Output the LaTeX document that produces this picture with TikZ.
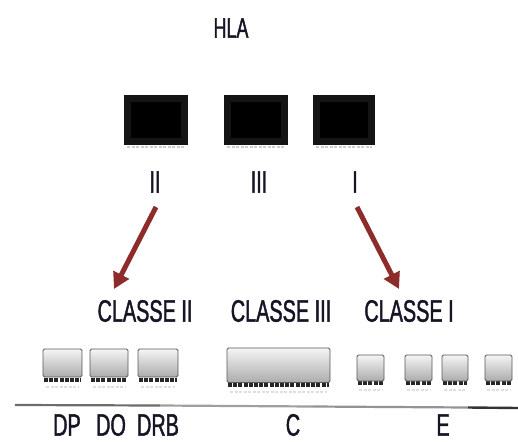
\documentclass[tikz,border=0pt]{standalone}
\usepackage{fontspec}
\usetikzlibrary{arrows.meta}
\newfontfamily\narrowfont[FakeStretch=0.64,FakeBold=1.3]{Liberation Sans}
\definecolor{txt}{HTML}{151525}
\definecolor{arrowred}{HTML}{8E2B2B}
\tikzset{
  lbl/.style={font=\narrowfont\fontsize{31}{31}\selectfont, text=txt, inner sep=0pt},
  gbox/.style={top color=gray!8, bottom color=gray!65, draw=black!65, line width=0.8pt, rounded corners=1.5pt},
  pins/.style={draw=black!85, line width=4pt, dash pattern=on 4pt off 1.2pt},
  refl/.style={draw=gray!25, line width=2pt, dash pattern=on 3pt off 1.5pt},
  redarrow/.style={draw=arrowred, line width=5pt, -{Triangle[length=16pt,width=17pt]}},
}
\begin{document}
\begin{tikzpicture}[x=1pt,y=-1pt]
\useasboundingbox (0,0) rectangle (518,441);
% title
\node[lbl, font=\narrowfont\fontsize{28}{28}\selectfont] (hla) at (231,28) {HLA};
% black chips
\foreach \xa/\xb/\n in {124/188/k2, 224/288/k3, 313/375/k1}{
  \draw[refl, draw=gray!40] (\xa+3,147) -- (\xb-3,147);
  \fill[black!92] (\xa,95) rectangle (\xb,145);
  \fill[black] (\xa+7,102) rectangle (\xb-7,138);
  \coordinate (\n) at ({(\xa+\xb)/2},120);
}
% roman labels
\node[lbl] (l2) at (155,182) {II};
\node[lbl] (l3) at (259,182) {III};
\node[lbl] (l1) at (355,182) {I};
% arrows
\coordinate (a2s) at (156,207);
\coordinate (a2e) at (114,289);
\coordinate (a1s) at (357,207);
\coordinate (a1e) at (399,289);
\draw[redarrow] (a2s) -- (a2e);
\draw[redarrow] (a1s) -- (a1e);
% class labels
\node[lbl] (c2) at (145,311) {CLASSE II};
\node[lbl] (c3) at (281,311) {CLASSE III};
\node[lbl] (c1) at (409,311) {CLASSE I};
% gray boxes class II
\foreach \xa/\xb in {43/82, 90/128, 138/178}{
  \draw[refl] (\xa+3,387) -- (\xb-3,387);
  \draw[pins] (\xa+1,379.5) -- (\xb-1,379.5);
  \shade[gbox] (\xa,349) rectangle (\xb,377);
}
% class III
\draw[refl] (230,392) -- (327,392);
\draw[pins] (228,385) -- (329,385);
\shade[gbox] (227,348) rectangle (330,382.5);
% class I
\foreach \xa/\xb in {357/384, 405/432, 442/468, 485/512}{
  \draw[refl] (\xa+2,390) -- (\xb-2,390);
  \draw[pins] (\xa+1,383) -- (\xb-1,383);
  \shade[gbox] (\xa,355) rectangle (\xb,381);
}
% baseline
\coordinate (b0) at (15,405);
\coordinate (b1) at (160,405.5);
\coordinate (b2) at (313,406.5);
\coordinate (b3) at (468,407.5);
\coordinate (b4) at (518,408);
\draw[gray!85!black, line width=2.2pt] (b0) -- (b1);
\draw[gray!75, line width=2.2pt] (b1) -- (b2);
\draw[gray!85, line width=2.2pt] (b2) -- (b3);
\draw[black!80, line width=2.4pt] (b3) -- (b4);
% bottom labels
\node[lbl] (dp) at (67,425) {DP};
\node[lbl] (do) at (111,425) {DO};
\node[lbl] (drb) at (158,425) {DRB};
\node[lbl] (cc) at (293,425) {C};
\node[lbl] (ee) at (443,425) {E};
\end{tikzpicture}
\end{document}
